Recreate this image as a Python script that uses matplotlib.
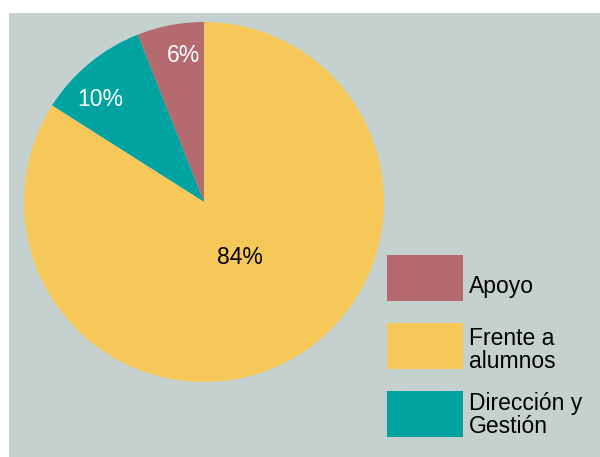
import matplotlib.pyplot as plt
from matplotlib.patches import Rectangle

# data
labels = ['Apoyo', 'Dirección y\nGestión', 'Frente a\nalumnos']
values = [6, 10, 84]
colors = ['#b56a70', '#00a3a0', '#f6c85a']
pct_labels = ['6%', '10%', '84%']
pct_colors = ['white', 'white', 'black']

# legend order as shown on the right side
legend_labels = ['Apoyo', 'Frente a\nalumnos', 'Dirección y\nGestión']
legend_colors = ['#b56a70', '#f6c85a', '#00a3a0']

plt.rcParams['font.family'] = ['Liberation Sans', 'DejaVu Sans']

H = 457
fig = plt.figure(figsize=(6, 4.57), dpi=100, facecolor='white')
ax = fig.add_axes([0, 0, 1, 1])

# gray panel behind the chart
ax.add_patch(Rectangle((9, 0), 591, H - 13, facecolor='#c5d1ce', edgecolor='none', zorder=0))

wedges, _ = ax.pie(values, colors=colors, startangle=90, counterclock=True,
                   center=(204, H - 202), radius=180, frame=True,
                   wedgeprops={'linewidth': 0})
ax.set_xlim(0, 600)
ax.set_ylim(0, H)
ax.set_aspect('equal')
ax.axis('off')

# percentage labels
pct_pos = [(184, 56), (100, 100), (240, 258)]
for txt, col, (x, y) in zip(pct_labels, pct_colors, pct_pos):
    ax.text(x, H - y, txt, color=col, fontsize=16.5, ha='center', va='center')

# legend boxes and labels (y of last-line baseline)
box_tops = [255, 323, 391]
text_baselines = [293, 368, 433]
for lab, col, top, base in zip(legend_labels, legend_colors, box_tops, text_baselines):
    ax.add_patch(Rectangle((387, H - top - 46), 76, 46, facecolor=col, edgecolor='none'))
    ax.text(469, H - base, lab, fontsize=16.5, ha='left', va='baseline',
            linespacing=1.0, color='black')

fig.savefig('out.png', dpi=100, facecolor='white')
